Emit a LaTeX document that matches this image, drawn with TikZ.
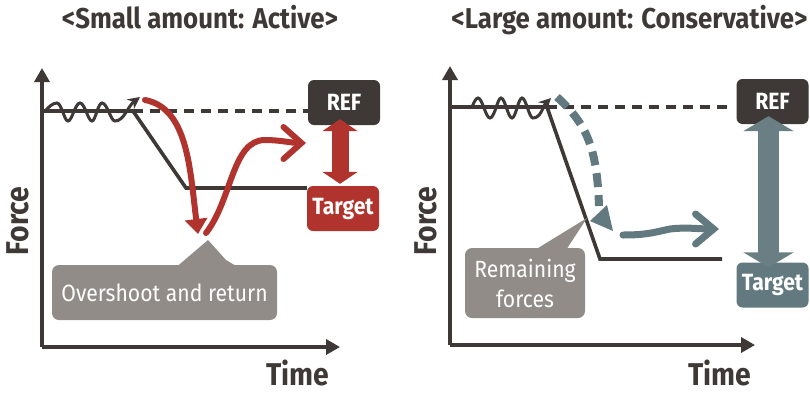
\documentclass[tikz,border=0pt]{standalone}
\usepackage{fontspec}
\setmainfont{Fira Sans}[FakeStretch=0.9]
\usetikzlibrary{arrows.meta,calc}
\definecolor{ink}{RGB}{62,57,54}
\definecolor{redc}{RGB}{176,52,45}
\definecolor{noteg}{RGB}{145,140,136}
\definecolor{slate}{RGB}{98,121,127}
\definecolor{slatel}{RGB}{106,127,132}
\begin{document}
\begin{tikzpicture}[x=1pt,y=-1pt,
  axis/.style={draw=ink,line width=4.2pt,-{Triangle[length=14pt,width=15pt]}},
  refline/.style={draw=ink,line width=4pt},
  refdash/.style={draw=ink,line width=4pt,dash pattern=on 10pt off 7pt},
  trace/.style={draw=ink,line width=3.6pt},
  wave/.style={draw=ink,line width=3pt,-{Stealth[length=12pt,width=12pt]}},
  tag/.style={rounded corners=6pt,minimum width=72pt,minimum height=45pt,inner sep=0pt,
    text=white,font=\fontsize{23.5}{26}\selectfont\bfseries},
  note/.style={fill=noteg,rounded corners=7pt,inner sep=0pt,text=white,
    font=\fontsize{23.5}{30}\selectfont},
  lab/.style={text=ink,font=\fontsize{31.5}{34}\selectfont\bfseries,inner sep=0pt},
  head/.style={text=ink,font=\fontsize{28.7}{30}\selectfont\bfseries,inner sep=0pt},
  dblA/.style={redc,line width=17pt,{Triangle[length=12pt,width=35pt]}-{Triangle[length=12pt,width=35pt]}},
  dblB/.style={slatel,line width=21pt,{Triangle[length=15pt,width=50pt]}-{Triangle[length=15pt,width=50pt]}},
  bigarrow/.style={line width=#1,line cap=round,line join=round}
]
\useasboundingbox (0,0) rectangle (810,392);

% ---------- titles ----------
\node[head,anchor=base] (titleA) at (200,28) {<Small amount: Active>};
\node[head,anchor=base] (titleB) at (629.5,28) {<Large amount: Conservative>};

% ================= left panel =================
\coordinate (oA) at (42,347);
\coordinate (yA) at (42,68);
\coordinate (xA) at (340,347);
\draw[axis] (oA) -- (yA);
\draw[axis] (oA) -- (xA);
\node[lab,rotate=90,anchor=base] (forceA) at (28,221) {Force};
\node[lab,anchor=base] (timeA) at (298,385) {Time};

\node[tag,fill=ink] (refA) at (344,102.5) {REF};
\node[tag,fill=redc] (tgtA) at (343,208.5) {Target};

\coordinate (r0A) at (42,111);
\coordinate (kA) at (133,111);
\coordinate (bA) at (186,188);
\draw[refline] (r0A) -- (kA);
\draw[refdash] (kA) -- (refA.west |- kA);
\draw[trace] (kA) -- (bA) -- (tgtA.west |- bA);

\draw[wave] (45,111) sin (57,103) cos (62.5,111) sin (68,121) cos (74,111) sin (80,103)
  cos (86,111) sin (92,121) cos (97,111) sin (102,103) cos (108.5,111) sin (115,121)
  .. controls (124,121) and (128,106) .. (140,97);

% red arrows
\coordinate (s1A) at (145,100);
\coordinate (e1A) at (198,234);
\draw[redc,bigarrow=6pt,-{Triangle[length=15pt,width=22pt]}]
  (s1A) .. controls (188,108) and (190,170) .. (e1A);
\coordinate (s2A) at (206,233);
\coordinate (e2A) at (306,143);
\draw[redc,bigarrow=6pt,-{Straight Barb[length=18pt,width=32pt,line cap=round]}]
  (s2A) .. controls (232,200) and (232,140) .. (265,140) .. controls (280,140) and (292,143) .. (e2A);
\draw[dblA] ($(refA.south)+(-4,-6)$) -- ($(tgtA.north)+(-3,-2)$);

% callout
\node[note,minimum width=225pt,minimum height=55pt] (noteA) at (164.5,292.5) {Overshoot and return};
\coordinate (pA) at (208,240);
\fill[noteg] ($(noteA.north west)+(126,1)$) -- (pA) -- (226,260) -- ($(noteA.north west)+(184,1)$) -- cycle;

% ================= right panel =================
\coordinate (oB) at (450,345);
\coordinate (yB) at (450,66);
\coordinate (xB) at (755,345);
\draw[axis] (oB) -- (yB);
\draw[axis] (oB) -- (xB);
\node[lab,rotate=90,anchor=base] (forceB) at (436,221) {Force};
\node[lab,anchor=base] (timeB) at (720,385) {Time};

\node[tag,fill=ink] (refB) at (772.5,101.5) {REF};
\node[tag,fill=slate] (tgtB) at (772.5,285) {Target};

\coordinate (r0B) at (450,107);
\coordinate (kB) at (547,107);
\coordinate (bB) at (600,259);
\draw[refline] (r0B) -- (kB);
\draw[refdash] (kB) -- (730,107);
\draw[trace] (kB) -- (bB) -- (722,259);

\draw[wave] (472,107) sin (478,98) cos (484,108) sin (490,118) cos (496,108) sin (501,98)
  cos (506.5,108) sin (512,118) cos (517,108) sin (522,98) cos (527.5,108) sin (533,118)
  .. controls (541,118) and (543,106) .. (551,98);

% dashed return path and its head
\coordinate (s1B) at (557,97);
\draw[slate,line width=8pt,dash pattern=on 14pt off 8pt]
  (s1B) .. controls (588,125) and (597,150) .. (599,206);
\fill[slate] (590,221) -- (607,205) -- (613,231) -- cycle;

% settling arrow
\coordinate (s2B) at (623,235);
\coordinate (e2B) at (719,229);
\draw[slate,line width=7pt,line cap=round,-{Straight Barb[length=18pt,width=30pt,line cap=round]}]
  (s2B) .. controls (648,235) and (655,232) .. (670,229) .. controls (685,227) and (700,229) .. (e2B);

\draw[dblB] ($(refB.south)+(-4,-8)$) -- ($(tgtB.north)+(-4,5)$);

% callout
\node[note,minimum width=120pt,minimum height=70pt,align=center] (noteB) at (525,283) {Remaining\\forces};
\coordinate (pB) at (587,218);
\fill[noteg] ($(noteB.north west)+(72,1)$) -- (pB) -- ($(noteB.north west)+(102,1)$) -- cycle;
\end{tikzpicture}
\end{document}
